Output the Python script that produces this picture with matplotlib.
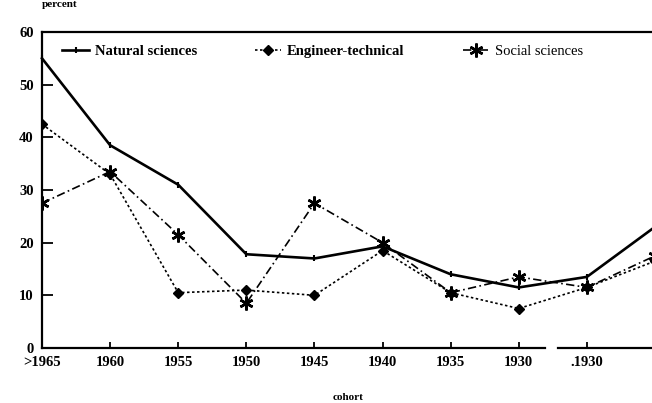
import matplotlib
matplotlib.use('Agg')
import matplotlib.pyplot as plt
import numpy as np

cohorts = ['>1965', '1960', '1955', '1950', '1945', '1940', '1935', '1930', '.1930', '']
natural = [55, 38.5, 31, 17.8, 17, 19.3, 14, 11.5, 13.5, 23]
engineer = [42.5, 33, 10.5, 11, 10, 18.5, 10.5, 7.5, 11.5, 16.5]
social = [27.5, 33.5, 21.5, 8.5, 27.5, 20, 10.5, 13.5, 11.5, 17.5]

plt.rcParams['font.family'] = ['Liberation Serif', 'DejaVu Serif']

fig = plt.figure(figsize=(6.52, 4.03), dpi=100)
ax = fig.add_axes([42 / 652, 55 / 403, 613 / 652, 316 / 403])

x = np.arange(len(cohorts))
ax.plot(x, natural, color='black', lw=1.9, ls='-', marker='|', ms=4, mew=1.5,
        label='Natural sciences', clip_on=False)
ax.plot(x, engineer, color='black', lw=1.2, ls=(0, (1.5, 1.5)), marker='D', ms=5.5,
        label='Engineer-technical')
ax.plot(x, social, color='black', lw=1.2, ls=(0, (5, 2, 1, 2)), marker=(6, 2, 0), ms=10, mew=1.8,
        label='Social sciences')

ax.set_xlim(0, 9)
ax.set_ylim(0, 60)
ax.set_yticks(range(0, 61, 10))
ax.set_xticks(x)
ax.set_xticklabels(cohorts)

for lab in ax.get_xticklabels() + ax.get_yticklabels():
    lab.set_fontweight('bold')
    lab.set_fontsize(10.5)

ax.tick_params(axis='y', direction='in', length=8, width=1.3, pad=6)
ax.tick_params(axis='x', direction='in', length=4, width=1.3, pad=6)

for side in ['left', 'top']:
    ax.spines[side].set_linewidth(1.6)
ax.spines['right'].set_visible(False)
# bottom axis is broken between 1930 and the next category
ax.spines['bottom'].set_bounds(0, 7.38)
ax.spines['bottom'].set_linewidth(1.6)
ax.plot([7.58, 9.1], [0, 0], color='black', lw=1.6, clip_on=False)

leg = ax.legend(loc='upper left', bbox_to_anchor=(0.012, 1.0), ncol=3, frameon=False,
                fontsize=10.5, handlelength=1.8, handletextpad=0.4, columnspacing=4.0)
for i, t in enumerate(leg.get_texts()):
    if i < 2:
        t.set_fontweight('bold')

ax.set_xlabel('cohort', fontsize=8, fontweight='bold', labelpad=17)
fig.text(42 / 652, 0.999, 'percent', fontsize=8, fontweight='bold', ha='left', va='top')

fig.savefig('out.png', dpi=100)
